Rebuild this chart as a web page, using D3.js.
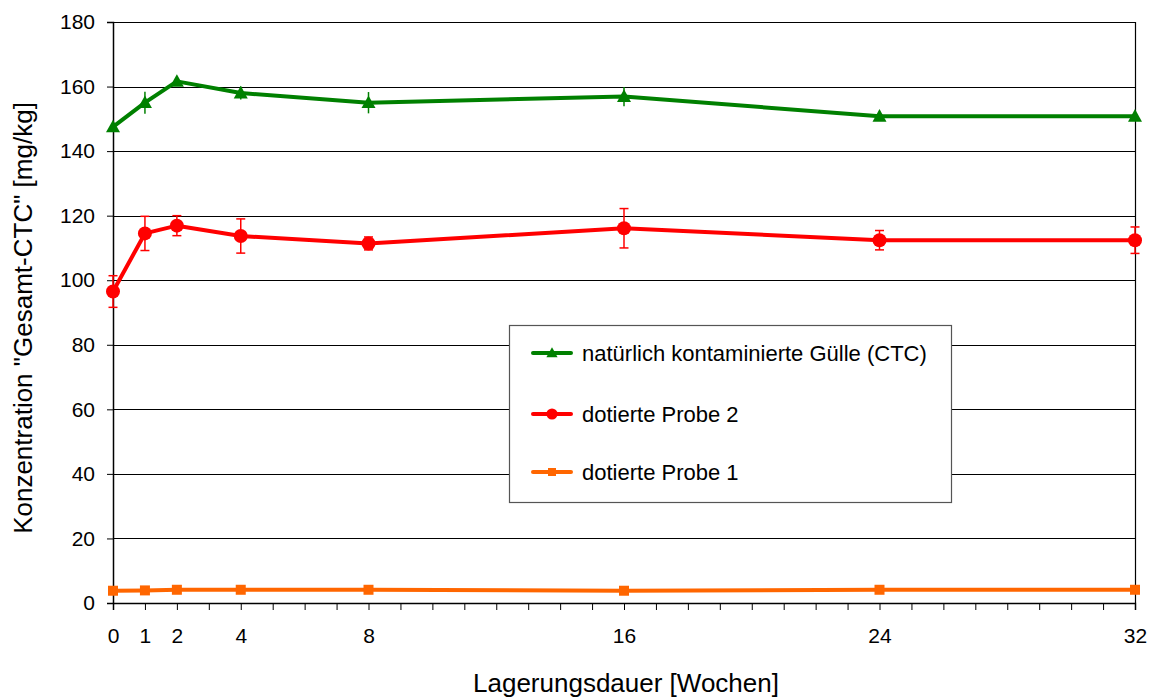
<!DOCTYPE html>
<html><head><meta charset="utf-8">
<script src="https://cdn.jsdelivr.net/npm/d3@7"></script>
<style>body{margin:0;background:#fff;} text{font-family:"Liberation Sans",Arial,sans-serif;}</style>
</head><body>
<svg id="c" width="1155" height="698"></svg>
<script>
const weeks = [0, 1, 2, 4, 8, 16, 24, 32];
const xTickLabels = [0, 1, 2, 4, 8, 16, 24, 32];
const yTicks = [0, 20, 40, 60, 80, 100, 120, 140, 160, 180];
const seriesNames = ["natürlich kontaminierte Gülle (CTC)", "dotierte Probe 2", "dotierte Probe 1"];
const greenVals = [147.5, 155, 161.6, 158, 155, 156.9, 150.8, 150.8];
const greenErr  = [0, 3.4, 1, 2, 3.3, 3, 0, 0];
const redVals   = [96.5, 114.5, 116.9, 113.7, 111.4, 116.1, 112.4, 112.4];
const redErr    = [4.9, 5.3, 3.1, 5.3, 2, 6.1, 3, 4.1];
const orangeVals= [3.8, 3.9, 4.1, 4.1, 4.1, 3.8, 4.1, 4.1];

const svg = d3.select("#c");
const L = 113, R = 1135, T = 22, B = 603;
const x = d3.scaleLinear().domain([0, 32]).range([L, R]);
const y = d3.scaleLinear().domain([0, 180]).range([B, T]);
const FONT = "Liberation Sans, Arial, sans-serif";

// gridlines
svg.append("g").selectAll("line").data(yTicks.slice(1)).join("line")
  .attr("x1", L).attr("x2", R).attr("y1", d => Math.round(y(d)) + 0.5).attr("y2", d => Math.round(y(d)) + 0.5)
  .attr("stroke", "#000").attr("stroke-width", 1);

// right border
svg.append("line").attr("x1", R + 0.5).attr("x2", R + 0.5).attr("y1", T).attr("y2", B).attr("stroke", "#000").attr("stroke-width", 1.2);

// y axis
const yAxis = d3.axisLeft(y).tickValues(yTicks).tickSize(6).tickPadding(12).tickFormat(d3.format("d"));
const gy = svg.append("g").attr("transform", `translate(${L},0)`).call(yAxis);
gy.select(".domain").attr("stroke", "#000").attr("stroke-width", 1.5);
gy.selectAll(".tick line").attr("stroke", "#000");
gy.selectAll(".tick text").attr("font-size", 21).attr("fill", "#000").attr("font-family", FONT);

// x axis minor ticks every week
const xAxis = d3.axisBottom(x).tickValues(d3.range(0, 33)).tickSize(7).tickFormat(d => xTickLabels.includes(d) ? d : "").tickPadding(18);
const gx = svg.append("g").attr("transform", `translate(0,${B})`).call(xAxis);
gx.select(".domain").attr("stroke", "#000").attr("stroke-width", 1.5);
gx.selectAll(".tick line").attr("stroke", "#000");
gx.selectAll(".tick text").attr("font-size", 21).attr("fill", "#000").attr("font-family", FONT);

// axis titles
svg.append("text").attr("x", 626).attr("y", 692).attr("text-anchor", "middle").attr("font-size", 26).text("Lagerungsdauer [Wochen]");
svg.append("text").attr("transform", `translate(32,318) rotate(-90)`).attr("text-anchor", "middle").attr("font-size", 26)
  .text('Konzentration "Gesamt-CTC" [mg/kg]');

const line = d3.line().x(d => x(d[0])).y(d => y(d[1]));
const series = [
  {vals: orangeVals, err: null, color: "#FF6600", marker: "square", name: seriesNames[2]},
  {vals: redVals, err: redErr, color: "#FF0000", marker: "circle", name: seriesNames[1], cap: true},
  {vals: greenVals, err: greenErr, color: "#008000", marker: "triangle", name: seriesNames[0], cap: false}
];

function marker(g, type, color, cx, cy, scale) {
  scale = scale || 1;
  if (type === "square") {
    const s = 10 * scale;
    g.append("rect").attr("x", cx - s / 2).attr("y", cy - s / 2).attr("width", s).attr("height", s).attr("fill", color);
  } else if (type === "circle") {
    g.append("circle").attr("cx", cx).attr("cy", cy).attr("r", 7 * scale).attr("fill", color);
  } else {
    const w = 14 * scale, h = 12 * scale;
    g.append("path").attr("d", `M${cx},${cy - h * 0.6} L${cx + w / 2},${cy + h * 0.45} L${cx - w / 2},${cy + h * 0.45} Z`).attr("fill", color);
  }
}

series.forEach(s => {
  const g = svg.append("g");
  const pts = weeks.map((w, i) => [w, s.vals[i]]);
  if (s.err) {
    weeks.forEach((w, i) => {
      const e = s.err[i];
      if (!e) return;
      const cx = x(w);
      g.append("line").attr("x1", cx).attr("x2", cx).attr("y1", y(s.vals[i] - e)).attr("y2", y(s.vals[i] + e))
        .attr("stroke", s.color).attr("stroke-width", 1.5);
      if (s.cap) {
        [s.vals[i] - e, s.vals[i] + e].forEach(v => {
          g.append("line").attr("x1", cx - 4.5).attr("x2", cx + 4.5).attr("y1", y(v)).attr("y2", y(v))
            .attr("stroke", s.color).attr("stroke-width", 1.5);
        });
      }
    });
  }
  g.append("path").datum(pts).attr("d", line).attr("fill", "none").attr("stroke", s.color).attr("stroke-width", 4).attr("stroke-linejoin", "round");
  pts.forEach(p => marker(g, s.marker, s.color, x(p[0]), y(p[1])));
});

// legend
const lg = svg.append("g");
lg.append("rect").attr("x", 509.5).attr("y", 325.5).attr("width", 442).attr("height", 177).attr("fill", "#fff").attr("stroke", "#555").attr("stroke-width", 1.2);
const legendRows = [
  {name: seriesNames[0], color: "#008000", marker: "triangle", yy: 353},
  {name: seriesNames[1], color: "#FF0000", marker: "circle", yy: 414},
  {name: seriesNames[2], color: "#FF6600", marker: "square", yy: 472}
];
legendRows.forEach(r => {
  lg.append("line").attr("x1", 533).attr("x2", 571).attr("y1", r.yy).attr("y2", r.yy).attr("stroke", r.color).attr("stroke-width", 4).attr("stroke-linecap", "round");
  marker(lg, r.marker, r.color, 552, r.yy, 0.8);
  lg.append("text").attr("x", 582).attr("y", r.yy + 8).attr("font-size", 22).attr("fill", "#000").attr("textLength", null).text(r.name);
});
</script>
</body></html>
